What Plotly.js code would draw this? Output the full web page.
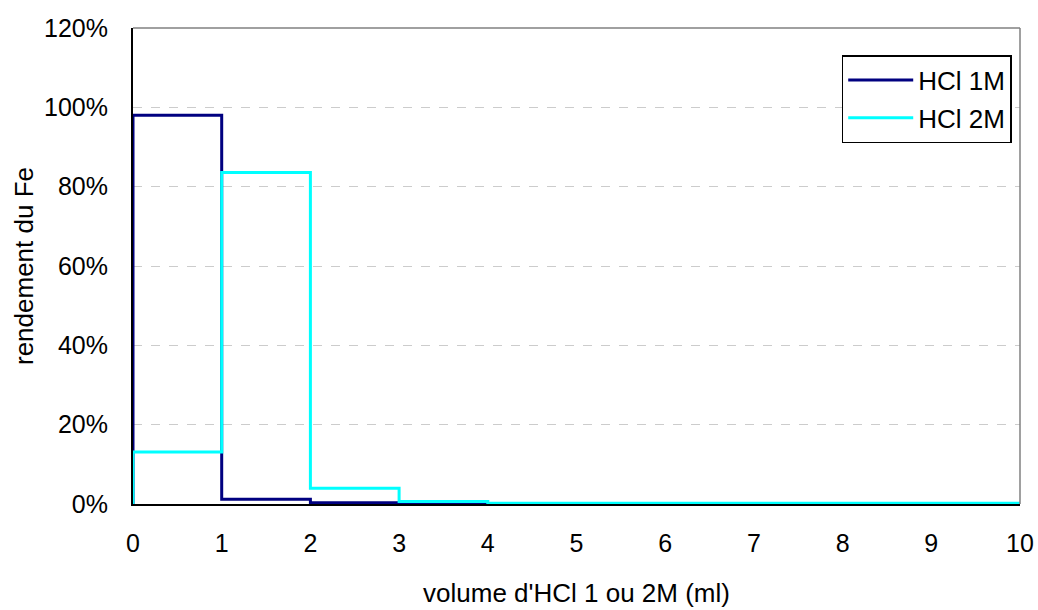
<!DOCTYPE html>
<html>
<head>
<meta charset="utf-8">
<script src="https://cdn.plot.ly/plotly-3.0.1.min.js"></script>
<style>html,body{margin:0;padding:0;background:#fff;}#chart{width:1038px;height:610px;}</style>
</head>
<body>
<div id="chart"></div>
<script>
const xVolume = [0, 1, 2, 3, 4, 5, 6, 7, 8, 9, 10];
const hcl1M = [0, 0.98, 0.012, 0.003, 0.001, 0.0005, 0.0005, 0.0005, 0.0005, 0.0005, 0.0005];
const hcl2M = [0, 0.131, 0.836, 0.04, 0.006, 0.002, 0.002, 0.002, 0.002, 0.002, 0.002];
const seriesNames = ["HCl 1M", "HCl 2M"];
const yTicks = [0, 0.2, 0.4, 0.6, 0.8, 1.0, 1.2];
const yTickLabels = ["0%", "20%", "40%", "60%", "80%", "100%", "120%"];
const xTicks = [0, 1, 2, 3, 4, 5, 6, 7, 8, 9, 10];

const traces = [
  {x: xVolume, y: hcl1M, name: seriesNames[0], legendgroup: "a", mode: "lines", line: {shape: "vh", color: "#000080", width: 3}},
  {x: xVolume, y: hcl2M, name: seriesNames[1], legendgroup: "b", mode: "lines", line: {shape: "vh", color: "#00FFFF", width: 3}}
];

const fam = "Liberation Sans, Arial, sans-serif";
const tickFont = {family: fam, size: 25, color: "#000"};
const titleFont = {family: fam, size: 26, color: "#000"};

const layout = {
  width: 1038, height: 610,
  margin: {l: 133, r: 18, t: 28, b: 106},
  paper_bgcolor: "#fff", plot_bgcolor: "#fff",
  font: tickFont,
  showlegend: true,
  legend: {
    x: 0.799, y: 0.943, xanchor: "left", yanchor: "top",
    bordercolor: "#000", borderwidth: 1.5, bgcolor: "#fff",
    font: {family: fam, size: 26, color: "#000"},
    traceorder: "grouped", tracegroupgap: 1, itemwidth: 65
  },
  xaxis: {
    range: [0, 10], tickvals: xTicks, ticktext: xTicks.map(String),
    showgrid: false, zeroline: false, showline: true, linecolor: "#000", linewidth: 2,
    ticks: "", tickfont: tickFont, ticklabelstandoff: 16,
    title: {text: "volume d'HCl 1 ou 2M (ml)", font: titleFont, standoff: 28}
  },
  yaxis: {
    range: [0, 1.2], tickvals: yTicks, ticktext: yTickLabels,
    showgrid: true, gridcolor: "#cccccc", griddash: "dash", gridwidth: 1,
    zeroline: false, showline: true, linecolor: "#000", linewidth: 2,
    ticks: "", tickfont: tickFont, ticklabelstandoff: 18,
    title: {text: "rendement du Fe", font: titleFont, standoff: 3}
  },
  shapes: [
    {type: "line", xref: "paper", yref: "paper", x0: 0, x1: 1, y0: 1, y1: 1, line: {color: "#808080", width: 1.5}},
    {type: "line", xref: "paper", yref: "paper", x0: 1, x1: 1, y0: 0, y1: 1, line: {color: "#808080", width: 1.5}}
  ]
};

Plotly.newPlot("chart", traces, layout, {displayModeBar: false, staticPlot: true});
</script>
</body>
</html>
